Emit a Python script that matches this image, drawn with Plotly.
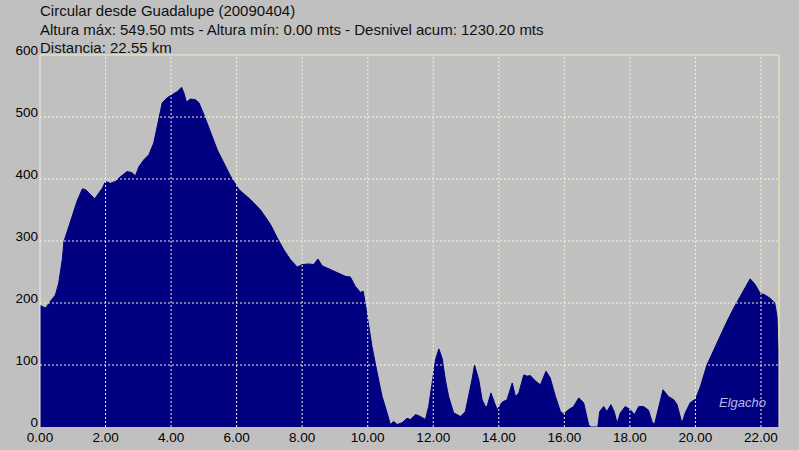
import plotly.graph_objects as go

# ---- data ----
dist_km = [0.00, 0.17, 0.32, 0.47, 0.57, 0.68, 0.73, 0.83, 0.98, 1.13, 1.29, 1.39, 1.54, 1.67, 1.79,
           1.90, 2.00, 2.15, 2.30, 2.46, 2.66, 2.81, 2.91, 3.02, 3.17, 3.32, 3.47, 3.62, 3.73, 3.88,
           4.03, 4.19, 4.32, 4.39, 4.47, 4.59, 4.74, 4.85, 5.00, 5.20, 5.41, 5.61, 5.81, 6.07, 6.42,
           6.73, 7.03, 7.24, 7.44, 7.64, 7.85, 8.00, 8.20, 8.35, 8.48, 8.61, 8.81, 9.07, 9.32, 9.47,
           9.62, 9.78, 9.86, 9.93, 10.03, 10.13, 10.29, 10.44, 10.59, 10.69, 10.79, 10.90, 11.05, 11.20,
           11.30, 11.46, 11.61, 11.76, 11.86, 11.97, 12.07, 12.17, 12.27, 12.37, 12.47, 12.62, 12.73,
           12.83, 12.98, 13.08, 13.18, 13.26, 13.39, 13.49, 13.59, 13.64, 13.76, 13.87, 13.95, 14.10,
           14.25, 14.41, 14.51, 14.61, 14.76, 14.87, 14.96, 15.12, 15.27, 15.44, 15.57, 15.73, 15.88,
           15.98, 16.13, 16.28, 16.44, 16.59, 16.74, 16.80, 17.02, 17.08, 17.20, 17.30, 17.42, 17.52,
           17.61, 17.71, 17.86, 18.01, 18.14, 18.27, 18.42, 18.57, 18.68, 18.75, 18.88, 19.01, 19.18,
           19.34, 19.44, 19.59, 19.69, 19.84, 20.00, 20.15, 20.35, 20.56, 20.76, 20.96, 21.17, 21.37,
           21.52, 21.67, 21.82, 21.97, 22.12, 22.27, 22.42, 22.49, 22.53, 22.55]
altura_m = [196, 192, 203, 213, 232, 270, 299, 315, 340, 364, 384, 383, 375, 368, 377,
            385, 396, 393, 396, 404, 412, 410, 405, 420, 431, 439, 458, 496, 523, 531,
            536, 541, 548, 539, 524, 529, 528, 523, 504, 477, 447, 426, 405, 383, 367,
            350, 327, 305, 286, 270, 258, 262, 263, 262, 271, 260, 255, 248, 243, 242,
            227, 217, 219, 198, 162, 130, 87, 49, 23, 4, 9, 4, 7, 14,
            12, 20, 17, 12, 33, 76, 109, 126, 111, 76, 49, 23, 20,
            17, 25, 49, 76, 100, 76, 44, 33, 33, 55, 39, 28, 40,
            44, 71, 49, 55, 84, 82, 83, 74, 68, 90, 79, 49, 25,
            21, 28, 33, 47, 39, 4, 0, 0, 25, 33, 25, 36, 25,
            6, 23, 33, 28, 20, 33, 33, 27, 8, 4, 33, 60, 49,
            44, 36, 6, 23, 39, 45, 65, 100, 125, 149, 170, 192, 211,
            227, 239, 230, 216, 213, 208, 200, 178, 120, 0]

x_ticks = [0, 2, 4, 6, 8, 10, 12, 14, 16, 18, 20, 22]
x_tick_labels = ["0.00", "2.00", "4.00", "6.00", "8.00", "10.00", "12.00", "14.00",
                 "16.00", "18.00", "20.00", "22.00"]
y_ticks = [0, 100, 200, 300, 400, 500, 600]
y_tick_labels = ["0", "100", "200", "300", "400", "500", "600"]
x_max = 22.55
y_max = 600

header_lines = [
    "Circular desde Guadalupe (20090404)",
    "Altura máx: 549.50 mts - Altura mín: 0.00 mts - Desnivel acum: 1230.20 mts",
    "Distancia: 22.55 km",
]

BG = "#c0c0c0"
NAVY = "#000080"
GRID = "#f4f4d4"
FONT = "Liberation Sans, Arial, sans-serif"

fig = go.Figure()
fig.add_trace(go.Scatter(
    x=dist_km, y=altura_m, mode="lines",
    line=dict(color=NAVY, width=1),
    fill="tozeroy", fillcolor=NAVY,
    hoverinfo="skip", showlegend=False,
))

shapes = []
for yv in y_ticks[1:-1]:
    shapes.append(dict(type="line", xref="paper", yref="y", x0=0, x1=1, y0=yv, y1=yv,
                       line=dict(color=GRID, width=1, dash="2px,2px"), layer="above"))
for xv in x_ticks[1:]:
    shapes.append(dict(type="line", xref="x", yref="paper", x0=xv, x1=xv, y0=0, y1=1,
                       line=dict(color=GRID, width=1, dash="2px,2px"), layer="above"))
# frame: top and right solid pale yellow, left light
shapes.append(dict(type="line", xref="paper", yref="paper", x0=0, x1=1, y0=1, y1=1,
                   line=dict(color="#ececc8", width=1), layer="above"))
shapes.append(dict(type="line", xref="paper", yref="paper", x0=1, x1=1, y0=0, y1=1,
                   line=dict(color="#f0f0a8", width=1), layer="above"))
shapes.append(dict(type="line", xref="paper", yref="paper", x0=0, x1=0, y0=0, y1=1,
                   line=dict(color="#ececec", width=1), layer="above"))

annotations = []
for i, txt in enumerate(header_lines):
    annotations.append(dict(text=txt, xref="paper", yref="paper", x=0, y=1,
                            xanchor="left", yanchor="top", xshift=-2, yshift=55 - 18.5 * i,
                            showarrow=False, font=dict(family=FONT, size=15, color="#101010")))
annotations.append(dict(text="<i>Elgacho</i>", xref="paper", yref="paper", x=0.985, y=0.04,
                        xanchor="right", yanchor="bottom", showarrow=False,
                        font=dict(family=FONT, size=13, color="#b8b8e8")))

fig.update_layout(
    width=799, height=450,
    margin=dict(l=40, r=20, t=55, b=23, pad=0),
    paper_bgcolor=BG, plot_bgcolor=BG,
    font=dict(family=FONT, size=13.5, color="#000000"),
    shapes=shapes, annotations=annotations,
    xaxis=dict(range=[0, x_max], tickvals=x_ticks, ticktext=x_tick_labels,
               showgrid=False, zeroline=False, showline=False, ticks="",
               ticklabelstandoff=0, fixedrange=True, automargin=False),
    yaxis=dict(range=[0, y_max], tickvals=y_ticks, ticktext=y_tick_labels,
               showgrid=False, zeroline=False, showline=False, ticks="",
               ticklabelshift=-5, ticklabelstandoff=1, fixedrange=True, automargin=False),
)

fig.write_html("out.html", config={"displayModeBar": False},
               post_script="document.body.style.margin='0';document.body.style.overflow='hidden';")
